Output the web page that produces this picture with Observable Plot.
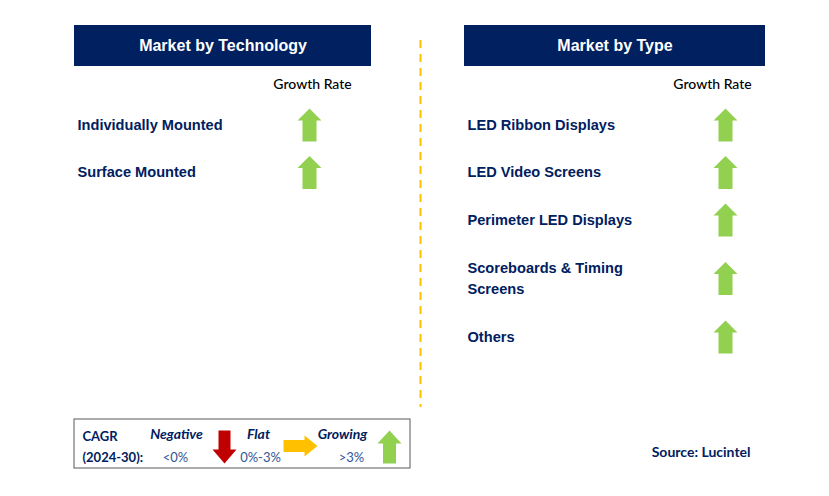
<!DOCTYPE html>
<html>
<head>
<meta charset="utf-8">
<script src="https://cdn.jsdelivr.net/npm/d3@7"></script>
<script src="https://cdn.jsdelivr.net/npm/@observablehq/plot@0.6"></script>
<style>
  html, body { margin: 0; padding: 0; background: #fff; }
  #chart { width: 829px; height: 496px; }
</style>
</head>
<body>
<div id="chart"></div>
<script>
// ---- data ----
const panelTitles = ["Market by Technology", "Market by Type"];
const growthHeader = "Growth Rate";
const technologies = ["Individually Mounted", "Surface Mounted"];
const technologyGrowth = ["up", "up"];
const types = ["LED Ribbon Displays", "LED Video Screens", "Perimeter LED Displays", "Scoreboards & Timing\nScreens", "Others"];
const typeGrowth = ["up", "up", "up", "up", "up"];
const legendTitle = "CAGR\n(2024-30):";
const legendLabels = ["Negative", "Flat", "Growing"];
const legendRanges = ["<0%", "0%-3%", ">3%"];
const legendDirections = ["down", "right", "up"];
const source = "Source: Lucintel";

// ---- layout ----
const W = 829, H = 496;
const NAVY = "#002060";
const GREEN = "#92D050", RED = "#C00000", AMBER = "#FFC000";
const ARIAL = "Liberation Sans, Arial, sans-serif";
const CALIBRI = "Lato, Carlito, Calibri, sans-serif";

const panels = [
  {x1: 74, x2: 371, labelX: 77, arrowX: 309, growthX: 312},
  {x1: 464, x2: 765, labelX: 467, arrowX: 725, growthX: 712}
];

function rowYs(labels) {
  const ys = [];
  let extra = 0;
  labels.forEach((l, i) => {
    const lines = l.split("\n").length;
    ys.push(124 + 47.5 * i + 11 * (extra + (lines - 1)));
    extra += 2 * (lines - 1);
  });
  return ys;
}

function rows(labels, growth, p) {
  const ys = rowYs(labels);
  return labels.map((label, i) => ({label, dir: growth[i], x: p.labelX, ax: p.arrowX, y: ys[i]}));
}
const rowData = [...rows(technologies, technologyGrowth, panels[0]), ...rows(types, typeGrowth, panels[1])];

// arrow symbols (fixed pixel geometry)
function poly(ctx, pts) { ctx.moveTo(pts[0][0], pts[0][1]); for (let k = 1; k < pts.length; k++) ctx.lineTo(pts[k][0], pts[k][1]); ctx.closePath(); }
function upArrow(h, hw, sw, hh) {
  return {draw(ctx) {
    const t = -h / 2, b = h / 2, yh = t + hh;
    poly(ctx, [[0, t], [hw / 2, yh], [sw / 2, yh], [sw / 2, b], [-sw / 2, b], [-sw / 2, yh], [-hw / 2, yh]]);
  }};
}
function downArrow(h, hw, sw, hh) {
  return {draw(ctx) {
    const t = -h / 2, b = h / 2, yh = b - hh;
    poly(ctx, [[0, b], [hw / 2, yh], [sw / 2, yh], [sw / 2, t], [-sw / 2, t], [-sw / 2, yh], [-hw / 2, yh]]);
  }};
}
function rightArrow(w, hh, sh, hl) {
  return {draw(ctx) {
    const l = -w / 2, r = w / 2, xh = r - hl;
    poly(ctx, [[r, 0], [xh, -hh / 2], [xh, -sh / 2], [l, -sh / 2], [l, sh / 2], [xh, sh / 2], [xh, hh / 2]]);
  }};
}
const mainUp = upArrow(33, 24, 14, 12);
const symbolFor = {
  up: {symbol: upArrow(33, 24, 13, 13), fill: GREEN},
  down: {symbol: downArrow(33, 24, 12, 14), fill: RED},
  right: {symbol: rightArrow(34, 21, 12, 13), fill: AMBER}
};

const headerData = panelTitles.map((t, i) => ({title: t, ...panels[i]}));
const legendCols = [176, 258, 342];
const legendArrowX = [224, 300, 389];
const legendRangeX = [175, 260, 351];
const legendData = legendLabels.map((l, i) => ({label: l, range: legendRanges[i], dir: legendDirections[i], x: legendCols[i], ax: legendArrowX[i], rx: legendRangeX[i]}));

const chart = Plot.plot({
  width: W, height: H, margin: 0,
  x: {domain: [0, W], range: [0, W], axis: null},
  y: {domain: [0, H], range: [0, H], axis: null},
  style: {background: "#fff"},
  marks: [
    // header boxes
    Plot.rect(headerData, {x1: "x1", x2: "x2", y1: () => 25, y2: () => 66, fill: NAVY}),
    Plot.text(headerData, {x: d => (d.x1 + d.x2) / 2, y: () => 45, text: "title", fill: "#fff", fontFamily: ARIAL, fontWeight: "bold", fontSize: 16}),
    // growth rate headers
    Plot.text(panels, {x: "growthX", y: () => 84, text: () => growthHeader, fill: "#000", fontFamily: CALIBRI, fontSize: 14, fontWeight: 500}),
    // divider
    Plot.ruleX([420], {y1: 40, y2: 407, stroke: AMBER, strokeWidth: 2, strokeDasharray: "8,6"}),
    // row labels
    Plot.text(rowData, {x: "x", y: d => d.y - 1, text: "label", textAnchor: "start", lineHeight: 1.38, fill: NAVY, fontFamily: ARIAL, fontWeight: "bold", fontSize: 14.6}),
    // row arrows
    Plot.dot(rowData, {x: "ax", y: d => d.y + 0.5, symbol: () => mainUp, fill: GREEN, stroke: null, r: 10}),
    // legend box
    Plot.rect([0], {x1: () => 74, x2: () => 410, y1: () => 419, y2: () => 468, fill: "none", stroke: "#595959", strokeWidth: 1}),
    Plot.text([legendTitle], {x: () => 82, y: () => 444.5, text: d => d, textAnchor: "start", lineHeight: 1.6, fill: NAVY, fontFamily: CALIBRI, fontWeight: "bold", fontSize: 13}),
    Plot.text(legendData, {x: "x", y: () => 434, text: "label", fill: NAVY, fontFamily: CALIBRI, fontWeight: "bold", fontStyle: "italic", fontSize: 14}),
    Plot.text(legendData, {x: "rx", y: () => 457, text: "range", fill: "#2F5597", fontFamily: CALIBRI, fontSize: 13}),
    ...legendDirections.map((dir, i) => Plot.dot([legendData[i]], {x: "ax", y: () => dir === "right" ? 445.5 : 446.5, symbol: () => symbolFor[dir].symbol, fill: symbolFor[dir].fill, stroke: null, r: 10})),
    // source
    Plot.text([source], {x: () => 750, y: () => 452, text: d => d, textAnchor: "end", fill: NAVY, fontFamily: CALIBRI, fontWeight: "bold", fontSize: 14})
  ]
});
document.getElementById("chart").appendChild(chart);
</script>
</body>
</html>
